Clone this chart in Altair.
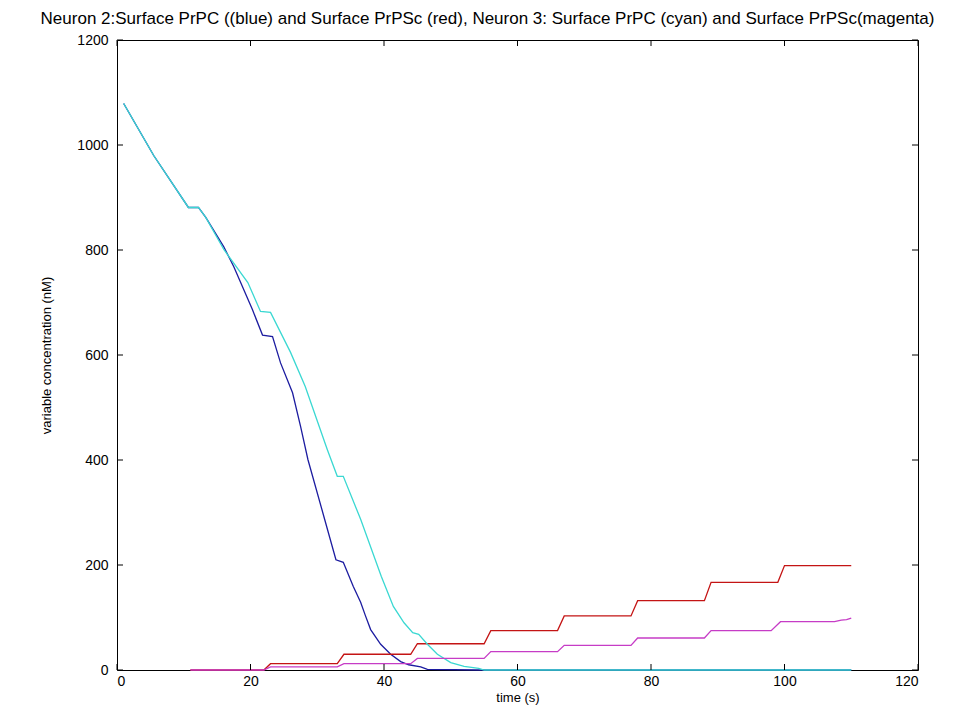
import altair as alt
import pandas as pd

# Neuron 2 surface PrPC (blue)
time_blue = [1, 5.5, 10.7, 12.2, 13.3, 16.0, 17.5, 20.3, 21.8, 23.3, 24.5, 26.3, 27.5, 28.6,
             31.0, 32.8, 33.9, 35.4, 36.5, 37.2, 38.0, 39.5, 41.0, 42.5, 43.7, 45.5, 46.5, 54.2, 110]
blue = [1079, 980, 881, 881, 862, 806, 768, 686, 638, 635, 585, 528, 464, 401,
        292, 210, 205, 159, 129, 104, 77, 49, 30, 16, 10, 6, 1, 0, 0]

# Neuron 2 surface PrPSc (red)
time_red = [11, 22, 23, 33, 34, 44, 45, 55, 56, 66, 67, 77, 78, 88, 89, 99, 100, 110]
red = [0, 0, 12, 12, 30, 30, 50, 50, 75, 75, 103, 103, 132, 132, 167, 167, 199, 199]

# Neuron 3 surface PrPC (cyan)
time_cyan = [1, 5.5, 10.7, 12.2, 13.3, 16.0, 19.6, 21.5, 23.0, 26.0, 28.2, 31.5, 33.0, 33.9,
             36.5, 39.6, 41.4, 43.0, 44.3, 45.2, 46.5, 48.0, 50.0, 52.0, 54.2, 55, 110]
cyan = [1079, 980, 881, 881, 862, 801, 738, 683, 681, 605, 540, 420, 369, 369,
        287, 178, 121, 90, 71, 68, 49, 30, 14, 7, 3, 0, 0]

# Neuron 3 surface PrPSc (magenta)
time_mag = [11, 22, 23, 33, 34, 44, 45, 55, 56, 66, 67, 77, 78, 88, 89, 98, 99.4, 107.5, 108.5, 109.3, 110]
magenta = [0, 0, 6, 6, 12, 12, 22, 22, 35, 35, 47, 47, 61, 61, 75, 75, 92, 92, 95, 96, 99]

x_ticks = [0, 20, 40, 60, 80, 100, 120]
y_ticks = [0, 200, 400, 600, 800, 1000, 1200]

title_text = ("Neuron 2:Surface PrPC ((blue) and Surface PrPSc (red), "
              "Neuron 3: Surface PrPC (cyan) and Surface PrPSc(magenta)")

W, H = 801, 630
FONT = "Liberation Sans"

xs = alt.Scale(domain=[0, 120], nice=False)
ys = alt.Scale(domain=[0, 1200], nice=False)

xaxis = alt.Axis(values=x_ticks, format="d", title="time (s)", grid=False, domain=False, tickSize=0,
                 labelPadding=4, labelFontSize=14, labelFont=FONT, labelColor="black",
                 titleFont=FONT, titleFontSize=13, titleFontWeight="normal", titleColor="black",
                 titleY=27, titleBaseline="middle")
yaxis = alt.Axis(values=y_ticks, format="d", title="variable concentration (nM)", grid=False,
                 domain=False, tickSize=0, labelPadding=9, labelFontSize=14, labelFont=FONT,
                 labelColor="black", titleFont=FONT, titleFontSize=13, titleFontWeight="normal",
                 titleColor="black", titleAngle=270, titleX=-71, titleY=H / 2,
                 titleBaseline="middle", titleAlign="center")


def line(t, v, color):
    df = pd.DataFrame({"t": t, "v": v})
    return alt.Chart(df).mark_line(color=color, strokeWidth=1.3).encode(
        x=alt.X("t:Q", scale=xs, axis=xaxis),
        y=alt.Y("v:Q", scale=ys, axis=yaxis),
    )


xt = pd.DataFrame({"t": x_ticks})
yt = pd.DataFrame({"v": y_ticks})
TL = 6
tick_bottom = alt.Chart(xt).mark_rule(color="black").encode(
    x=alt.X("t:Q", scale=xs), y=alt.value(H), y2=alt.value(H - TL))
tick_top = alt.Chart(xt).mark_rule(color="black").encode(
    x=alt.X("t:Q", scale=xs), y=alt.value(0), y2=alt.value(TL))
tick_left = alt.Chart(yt).mark_rule(color="black").encode(
    y=alt.Y("v:Q", scale=ys), x=alt.value(0), x2=alt.value(TL))
tick_right = alt.Chart(yt).mark_rule(color="black").encode(
    y=alt.Y("v:Q", scale=ys), x=alt.value(W), x2=alt.value(W - TL))

chart = alt.layer(
    line(time_blue, blue, "#1c1ca0"),
    line(time_red, red, "#c41414"),
    line(time_cyan, cyan, "#3ad8d2"),
    line(time_mag, magenta, "#c63cc6"),
    tick_bottom, tick_top, tick_left, tick_right,
).properties(
    width=W, height=H,
    autosize=alt.AutoSizeParams(type="none"),
    padding={"left": 109, "top": 32, "right": 48, "bottom": 40},
    background="white",
    title=alt.TitleParams(text=title_text, font=FONT, fontSize=17, fontWeight="normal",
                          color="black", anchor="middle", frame="group", dx=-30, offset=5,
                          limit=0),
).configure_view(stroke="black", strokeWidth=1)

chart.save("out.html", embed_options={"renderer": "svg", "actions": False})
